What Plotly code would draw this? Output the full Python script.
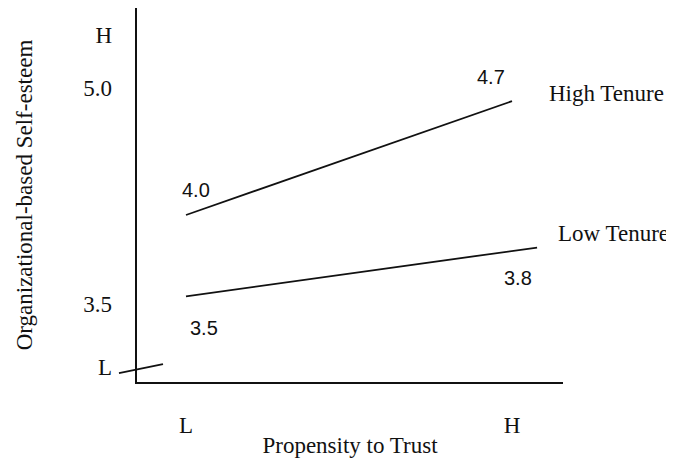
import plotly.graph_objects as go

# ---- data ----
trust_levels = ["L", "H"]
trust_tick_vals = [0, 1]

high_tenure_x = [0, 1]
high_tenure_y = [4.0, 4.7]

low_tenure_x = [0, 1.077]
low_tenure_y = [3.5, 3.8]

obse_tick_vals = [3.06, 3.5, 5.0, 5.37]
obse_tick_text = ["L", "3.5", "5.0", "H"]

FONT = "Liberation Serif, Times New Roman, serif"
SANS = "Liberation Sans, Arial, sans-serif"
INK = "#111111"
FS = 23

fig = go.Figure()

fig.add_trace(go.Scatter(x=high_tenure_x, y=high_tenure_y, mode="lines",
                         line=dict(color=INK, width=1.8), name="High Tenure",
                         showlegend=False, hoverinfo="skip"))
fig.add_trace(go.Scatter(x=low_tenure_x, y=low_tenure_y, mode="lines",
                         line=dict(color=INK, width=1.8), name="Low Tenure",
                         showlegend=False, hoverinfo="skip"))
# invisible trace carrying the labelled scale axis
fig.add_trace(go.Scatter(x=[None], y=[None], yaxis="y2", mode="lines",
                         showlegend=False, hoverinfo="skip"))

ann = []
def lab(x, y, text, xs, ys, xanchor="center", family=FONT, size=FS):
    ann.append(dict(x=x, y=y, xref="x", yref="y", text=text, showarrow=False,
                    xshift=xs, yshift=ys, xanchor=xanchor, yanchor="middle",
                    font=dict(family=family, size=size, color=INK)))

lab(high_tenure_x[0], high_tenure_y[0], f"{high_tenure_y[0]:.1f}", 10, 25, family=SANS, size=20)
lab(high_tenure_x[1], high_tenure_y[1], f"{high_tenure_y[1]:.1f}", -21, 24, family=SANS, size=20)
lab(low_tenure_x[0], low_tenure_y[0], f"{low_tenure_y[0]:.1f}", 18, -32, family=SANS, size=20)
lab(low_tenure_x[1], low_tenure_y[1], f"{low_tenure_y[1]:.1f}", -19, -30, family=SANS, size=20)
lab(high_tenure_x[1], high_tenure_y[1], "High Tenure", 35, 8, xanchor="left")
lab(low_tenure_x[1], low_tenure_y[1], "Low Tenure", 19, 14, xanchor="left")

fig.update_layout(
    width=666, height=452,
    margin=dict(l=129, r=111, t=0, b=78),
    paper_bgcolor="white", plot_bgcolor="white",
    font=dict(family=FONT, size=FS, color=INK),
    annotations=ann,
    shapes=[dict(type="line", xref="paper", yref="paper",
                 x0=-0.0423, y0=0.024, x1=0.061, y1=0.048,
                 line=dict(color=INK, width=1.8))],
    xaxis=dict(range=[-0.1503, 1.1564], showgrid=False, zeroline=False,
               showline=True, linecolor=INK, linewidth=2,
               tickvals=trust_tick_vals, ticktext=trust_levels, ticks="",
               ticklabelstandoff=21,
               tickfont=dict(family=FONT, size=FS, color=INK),
               title=dict(text="Propensity to Trust", standoff=0,
                          font=dict(family=FONT, size=FS, color=INK))),
    yaxis=dict(range=[2.973, 5.273], showgrid=False, zeroline=False,
               showline=True, linecolor=INK, linewidth=2,
               showticklabels=False, ticks="",
               title=dict(text="Organizational-based Self-esteem", standoff=96,
                          font=dict(family=FONT, size=FS, color=INK))),
    yaxis2=dict(range=[2.958, 5.5556], overlaying="y", side="left", anchor="x",
                showgrid=False, zeroline=False, showline=False,
                tickvals=obse_tick_vals, ticktext=obse_tick_text, ticks="",
                ticklabelstandoff=24,
                tickfont=dict(family=FONT, size=FS, color=INK)),
)

fig.write_html("out.html")
